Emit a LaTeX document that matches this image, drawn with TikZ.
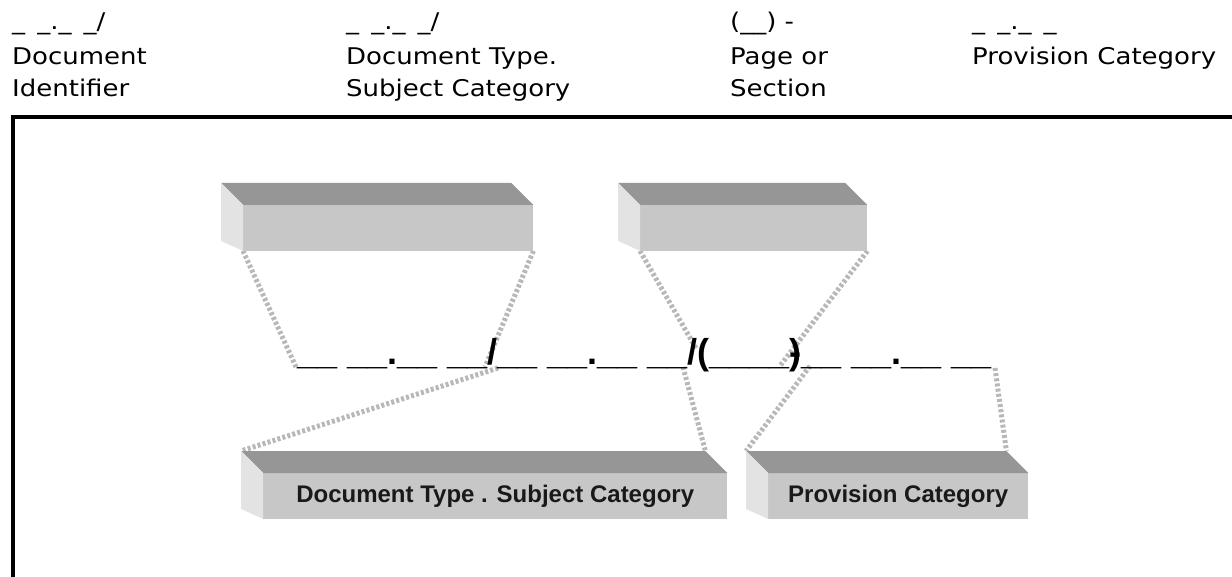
\documentclass[tikz,border=0pt]{standalone}
\usepackage{fontspec}
\usetikzlibrary{calc,backgrounds}
\newfontfamily\hdrfont[FakeStretch=1.13]{DejaVu Sans}
\newfontfamily\lblfont{Liberation Sans}
\definecolor{facetop}{gray}{0.59}
\definecolor{facefront}{gray}{0.78}
\definecolor{faceside}{gray}{0.89}
\definecolor{linkgray}{gray}{0.72}

% top and left faces of an extruded slab whose front face is node #1
\newcommand{\slabfaces}[1]{%
  \fill[facetop] (#1.north west) -- ++(-22,-22) -- ($(#1.north east)+(-22,-22)$) -- (#1.north east) -- cycle;
  \fill[faceside] (#1.north west) -- ++(-22,-22) -- ($(#1.south west)+(-22,-10)$) -- (#1.south west) -- cycle;}

\begin{document}
\begin{tikzpicture}[x=1pt,y=-1pt,
  hdr/.style={anchor=base west, inner sep=0pt, font=\hdrfont\fontsize{23}{28}\selectfont},
  front/.style={fill=facefront, draw=none, inner sep=0pt, anchor=north west, minimum height=45.5pt,
                font=\lblfont\bfseries\fontsize{24}{28}\selectfont, text=black!90},
  link/.style={draw=linkgray, line width=5pt, dash pattern=on 3pt off 2.2pt},
  frame/.style={line width=4pt, draw=black}
]
\useasboundingbox (0,0) rectangle (1232,577);

% column headings
\node[hdr] (c1r1) at (12,30) {\_\,\ \_.\_\,\ \_/};
\node[hdr] (c1r2) at (12,65) {Document};
\node[hdr] (c1r3) at (12,97) {Identifier};
\node[hdr] (c2r1) at (346,30) {\_\,\ \_.\_\,\ \_/};
\node[hdr] (c2r2) at (346,65) {Document Type.};
\node[hdr] (c2r3) at (346,97) {Subject Category};
\node[hdr] (c3r1) at (730,30) {(\_\_) -};
\node[hdr] (c3r2) at (730,65) {Page or};
\node[hdr] (c3r3) at (730,97) {Section};
\node[hdr] (c4r1) at (972,30) {\_\,\ \_.\_\,\ \_};
\node[hdr] (c4r2) at (972,65) {Provision Category};

% frame
\draw[frame] (13,579) -- (13,117) -- (1234,117);

% slabs
\node[front, minimum width=290pt] (tl) at (243,205) {};
\node[front, minimum width=227pt] (tr) at (640,205) {};
\node[front, minimum width=464pt] (bl) at (263,473) {Document Type . Subject Category};
\node[front, minimum width=260pt] (br) at (768,473) {Provision Category};
\slabfaces{tl}
\slabfaces{tr}
\slabfaces{bl}
\slabfaces{br}

% back corners of the lower slabs
\coordinate (bltl) at ($(bl.north west)+(-22,-22)$);
\coordinate (bltr) at ($(bl.north east)+(-22,-22)$);
\coordinate (brtl) at ($(br.north west)+(-22,-22)$);
\coordinate (brtr) at ($(br.north east)+(-22,-22)$);

% points on the code line
\coordinate (p1) at (296,367);
\coordinate (p2) at (485,367);
\coordinate (p3) at (498,368);
\coordinate (p4) at (697,350);
\coordinate (p5) at (683,367);
\coordinate (p6) at (780,366);
\coordinate (p7) at (810,366);
\coordinate (p8) at (995,368);

% code line
\node[anchor=base west, inner sep=0pt, font=\lblfont\bfseries\fontsize{36}{40}\selectfont] (code) at (297,364)
  {\_\_ \_\_.\_\_ \_\_/\_\_ \_\_.\_\_ \_\_/(\_\_\_\_\rlap{-})\_\_ \_\_.\_\_ \_\_};

\begin{scope}[on background layer]
  \draw[link] (tl.south west) -- (p1);
  \draw[link] (tl.south east) -- (p2);
  \draw[link] (p3) -- (bltl);
  \draw[link] (tr.south west) -- (p4);
  \draw[link] (p5) -- (bltr);
  \draw[link] (tr.south east) -- (p6);
  \draw[link] (p7) -- (brtl);
  \draw[link] (p8) -- (brtr);
\end{scope}
\end{tikzpicture}
\end{document}
